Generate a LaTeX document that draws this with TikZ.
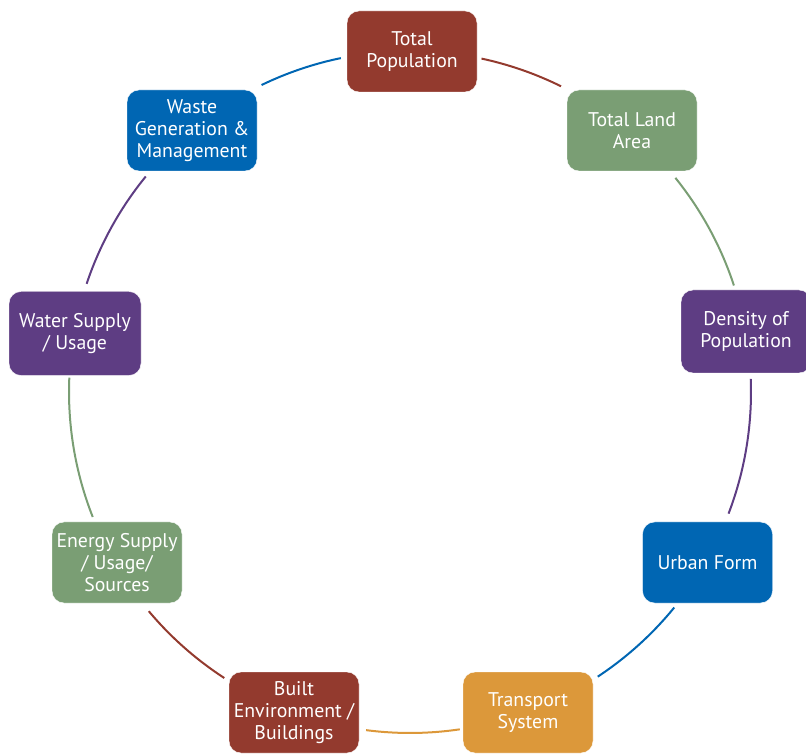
\documentclass[tikz,border=0pt]{standalone}
\usepackage{fontspec}
\setmainfont{PT Sans}
\definecolor{cred}{RGB}{147,58,46}
\definecolor{cgreen}{RGB}{122,158,116}
\definecolor{cpurple}{RGB}{94,61,131}
\definecolor{cblue}{RGB}{0,102,179}
\definecolor{corange}{RGB}{220,152,58}
\begin{document}
\begin{tikzpicture}[x=1pt,y=1pt,
  box/.style={rounded corners=12pt, minimum width=130pt, minimum height=81pt,
    text=white, align=center, inner sep=1pt,
    font=\fontsize{19.8pt}{22pt}\selectfont, draw=white, line width=0.4pt},
  link/.style={line width=2pt}]
\useasboundingbox (0,0) rectangle (806,753);
\coordinate (C) at (410,361);
\node[box, fill=cred]    (tp)  at (412,701.5) {Total\\Population};
\node[box, fill=cgreen]  (tla) at (632,622.5) {Total Land\\Area};
\node[box, fill=cpurple, minimum height=83pt] (den) at (746,421.5) {Density of\\Population};
\node[box, fill=cblue]   (uf)  at (707.5,190.5) {Urban Form};
\node[box, fill=corange] (ts)  at (528,40.5) {Transport\\System};
\node[box, fill=cred]    (be)  at (294,40.5) {Built\\Environment /\\Buildings};
\node[box, fill=cgreen]  (en)  at (117,190.5) {Energy Supply\\/ Usage/\\Sources};
\node[box, fill=cpurple, minimum width=132pt, minimum height=84pt] (ws) at (75,419.5) {Water Supply\\/ Usage};
\node[box, fill=cblue]   (wg)  at (192,622.5) {Waste\\Generation \&\\Management};
\path (C) ++(77.9:341)  coordinate (a1)
      (C) ++(38.9:341)  coordinate (a2)
      (C) ++(2.2:341)   coordinate (a3)
      (C) ++(-39.2:341) coordinate (a4)
      (C) ++(-81.6:341) coordinate (a5)
      (C) ++(-123.0:341) coordinate (a6)
      (C) ++(-158.5:341) coordinate (a7)
      (C) ++(161.5:341) coordinate (a8)
      (C) ++(115.8:341) coordinate (a9);
\draw[link, cred]    (a1) arc[start angle=77.9, end angle=63.7, radius=341pt];
\draw[link, cgreen]  (a2) arc[start angle=38.9, end angle=18.2, radius=341pt];
\draw[link, cpurple] (a3) arc[start angle=2.2, end angle=-20.9, radius=341pt];
\draw[link, cblue]   (a4) arc[start angle=-39.2, end angle=-56.6, radius=341pt];
\draw[link, corange] (a5) arc[start angle=-81.6, end angle=-97.4, radius=341pt];
\draw[link, cred]    (a6) arc[start angle=-123.0, end angle=-140.0, radius=341pt];
\draw[link, cgreen]  (a7) arc[start angle=-158.5, end angle=-182.4, radius=341pt];
\draw[link, cpurple] (a8) arc[start angle=161.5, end angle=140.8, radius=341pt];
\draw[link, cblue]   (a9) arc[start angle=115.8, end angle=101.7, radius=341pt];
\end{tikzpicture}
\end{document}
